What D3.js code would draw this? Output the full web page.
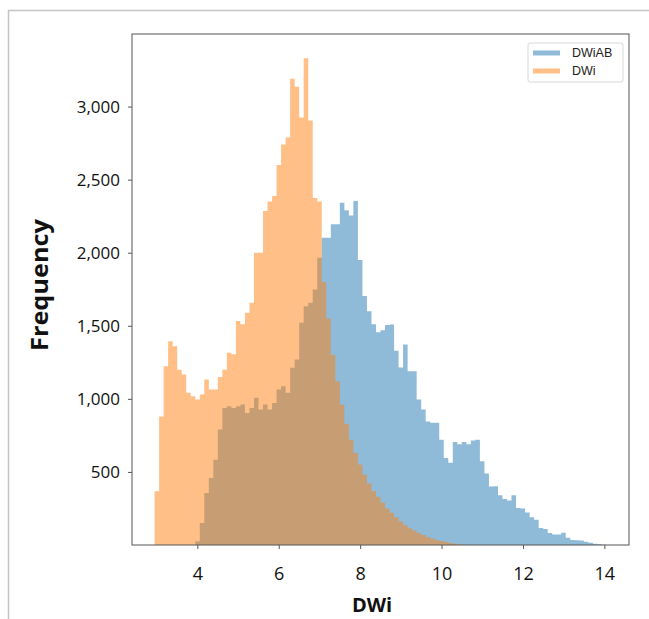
<!DOCTYPE html>
<html>
<head>
<meta charset="utf-8">
<script src="https://cdn.jsdelivr.net/npm/d3@7"></script>
<style>
  html, body { margin: 0; padding: 0; background: #fff; }
  svg { display: block; }
</style>
</head>
<body>
<svg id="chart" width="649" height="619"></svg>
<script>
// ---- data ----
const binStart = 2.95;
const binEnd = 14.05;
const binCount = 100;

const seriesNames = ["DWiAB", "DWi"];

// DWiAB counts per bin (bins 0..99)
const dwiabCounts = [
  0, 0, 0, 0, 0, 0, 0, 0, 0, 25,
  150, 356, 459, 584, 790, 938, 949, 938, 949, 961,
  904, 938, 1007, 927, 961, 927, 972, 1064, 1086, 1041,
  1212, 1269, 1521, 1634, 1658, 1748, 1966, 2103, 2103, 2194,
  2194, 2342, 2290, 2255, 2353, 1950, 1703, 1600, 1510, 1455,
  1470, 1505, 1509, 1330, 1215, 1372, 1189, 1189, 995, 927,
  845, 836, 836, 721, 596, 562, 705, 690, 705, 690,
  715, 721, 573, 490, 400, 402, 340, 315, 305, 340,
  253, 250, 222, 190, 173, 116, 110, 82, 71, 71,
  84, 50, 35, 32, 30, 22, 15, 9, 5, 2
];

// DWi counts per bin (bins 0..99)
const dwiCounts = [
  367, 880, 1223, 1395, 1360, 1200, 1166, 1041, 1018, 995,
  1030, 1132, 1064, 1064, 1150, 1200, 1315, 1305, 1532, 1510,
  1589, 1658, 2000, 2000, 2285, 2350, 2388, 2600, 2741, 2788,
  3190, 3135, 2925, 3330, 2905, 2375, 2350, 1800, 1550, 1300,
  1120, 960, 830, 720, 630, 550, 480, 420, 370, 330,
  290, 250, 220, 190, 160, 135, 115, 100, 82, 68,
  55, 45, 35, 27, 20, 14, 9, 5, 2, 0,
  0, 0, 0, 0, 0, 0, 0, 0, 0, 0,
  0, 0, 0, 0, 0, 0, 0, 0, 0, 0,
  0, 0, 0, 0, 0, 0, 0, 0, 0, 0
];

const xTicks = [4, 6, 8, 10, 12, 14];
const yTicks = [500, 1000, 1500, 2000, 2500, 3000];
const xLabel = "DWi";
const yLabel = "Frequency";

// ---- layout ----
const svg = d3.select("#chart");
const plot = { left: 132, right: 629, top: 34, bottom: 545 };

// outer frame of the figure
svg.append("line").attr("x1", 8.5).attr("x2", 8.5).attr("y1", 10).attr("y2", 619)
  .attr("stroke", "#c4c4c4").attr("stroke-width", 1.5);
svg.append("line").attr("x1", 8).attr("x2", 649).attr("y1", 10.5).attr("y2", 10.5)
  .attr("stroke", "#c4c4c4").attr("stroke-width", 1.5);

const span = binEnd - binStart;
const x = d3.scaleLinear()
  .domain([binStart - 0.05 * span, binEnd + 0.05 * span])
  .range([plot.left, plot.right]);
const maxCount = d3.max([...dwiabCounts, ...dwiCounts]);
const y = d3.scaleLinear()
  .domain([0, maxCount * 1.05])
  .range([plot.bottom, plot.top]);

const binW = span / binCount;
const edge = i => binStart + i * binW;

function stepPoints(counts) {
  const pts = counts.map((c, i) => [edge(i), c]);
  pts.push([edge(counts.length), counts[counts.length - 1]]);
  return pts;
}

const area = d3.area()
  .curve(d3.curveStepAfter)
  .x(d => x(d[0]))
  .y0(y(0))
  .y1(d => y(d[1]));

const g = svg.append("g");
g.append("path").datum(stepPoints(dwiabCounts))
  .attr("d", area).attr("fill", "#1f77b4").attr("fill-opacity", 0.5);
g.append("path").datum(stepPoints(dwiCounts))
  .attr("d", area).attr("fill", "#ff7f0e").attr("fill-opacity", 0.5);

// plot frame (spines)
svg.append("rect")
  .attr("x", plot.left).attr("y", plot.top)
  .attr("width", plot.right - plot.left).attr("height", plot.bottom - plot.top)
  .attr("fill", "none").attr("stroke", "#555").attr("stroke-width", 1);

// axes
const fontFam = "'Open Sans', 'Noto Sans', sans-serif";
const xAxis = d3.axisBottom(x).tickValues(xTicks).tickSize(4).tickPadding(18)
  .tickFormat(d3.format("d"));
const xg = svg.append("g").attr("transform", `translate(0,${plot.bottom})`).call(xAxis);
xg.select(".domain").remove();
xg.selectAll(".tick line").attr("stroke", "#555");
xg.selectAll("text").attr("font-family", fontFam).attr("font-size", 18).attr("fill", "#111");

const yAxis = d3.axisLeft(y).tickValues(yTicks).tickSize(4).tickPadding(8)
  .tickFormat(d3.format(","));
const yg = svg.append("g").attr("transform", `translate(${plot.left},0)`).call(yAxis);
yg.select(".domain").remove();
yg.selectAll(".tick line").attr("stroke", "#555");
yg.selectAll("text").attr("font-family", fontFam).attr("font-size", 17).attr("fill", "#111");

// axis titles
svg.append("text").attr("x", 372).attr("y", 612)
  .attr("text-anchor", "middle").attr("font-family", fontFam)
  .attr("font-size", 20).attr("font-weight", "bold").attr("fill", "#111")
  .text(xLabel);
svg.append("text")
  .attr("transform", "translate(48,285) rotate(-90)")
  .attr("text-anchor", "middle").attr("font-family", fontFam)
  .attr("font-size", 23).attr("font-weight", "bold").attr("fill", "#111")
  .attr("textLength", 132).attr("lengthAdjust", "spacingAndGlyphs")
  .text(yLabel);

// legend
const lg = svg.append("g");
lg.append("rect").attr("x", 528).attr("y", 43).attr("width", 95).attr("height", 39)
  .attr("rx", 2).attr("fill", "#fff").attr("fill-opacity", 0.8)
  .attr("stroke", "#d8d8d8").attr("stroke-width", 1);
const legendColors = ["#1f77b4", "#ff7f0e"];
seriesNames.forEach((name, i) => {
  const yy = 53 + i * 18;
  lg.append("rect").attr("x", 533).attr("y", yy - 2.5).attr("width", 27).attr("height", 5)
    .attr("fill", legendColors[i]).attr("fill-opacity", 0.5);
  lg.append("text").attr("x", 572).attr("y", yy).attr("dy", "0.35em")
    .attr("font-family", "'Liberation Sans', Arial, sans-serif").attr("font-size", 12.5)
    .attr("fill", "#222").text(name);
});
</script>
</body>
</html>
